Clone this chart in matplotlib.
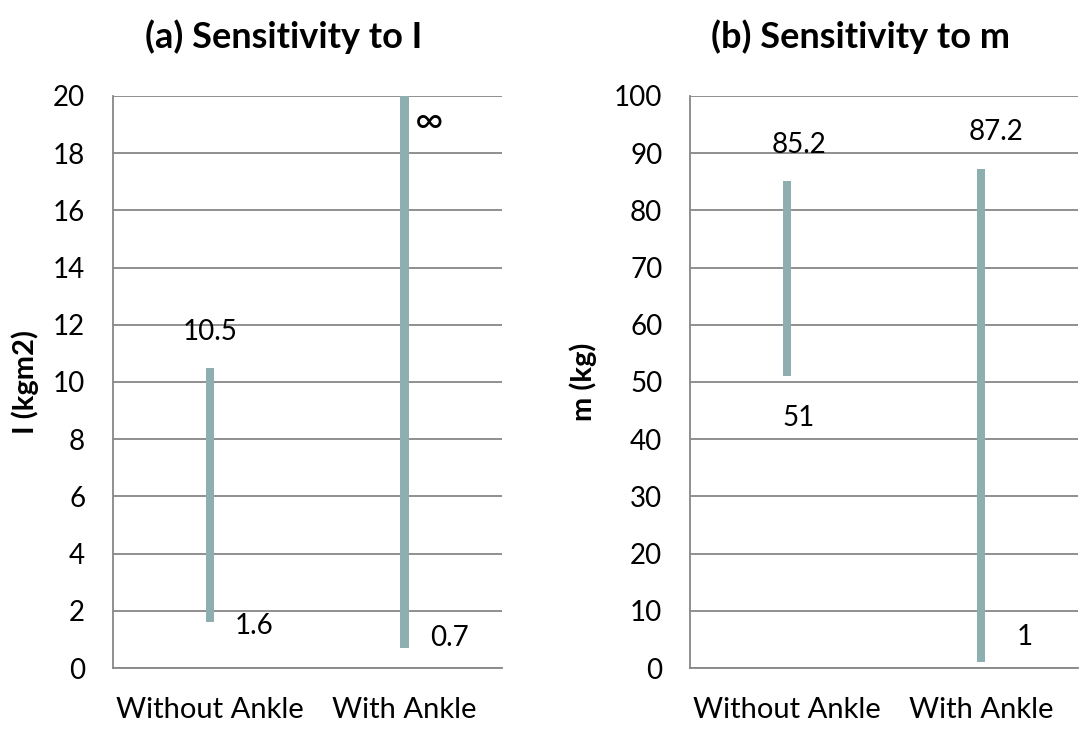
import matplotlib
matplotlib.use('Agg')
import matplotlib.pyplot as plt

plt.rcParams['font.family'] = ['Lato', 'DejaVu Sans']

categories = ['Without Ankle', 'With Ankle']

# (a) sensitivity to I
i_low = [1.6, 0.7]
i_high = [10.5, 20]          # upper bound for "With Ankle" is infinite, clipped at axis top
i_low_labels = ['1.6', '0.7']
i_high_labels = ['10.5', '∞']

# (b) sensitivity to m
m_low = [51, 1]
m_high = [85.2, 87.2]
m_low_labels = ['51', '1']
m_high_labels = ['85.2', '87.2']

bar_color = '#8DAFB0'
grid_color = '#878787'
FS = 20

fig = plt.figure(figsize=(10.86, 7.41), dpi=100)
ax1 = fig.add_axes([0.104, 0.0985, 0.358, 0.772])
ax2 = fig.add_axes([0.6354, 0.0985, 0.3573, 0.772])


def style(ax, ymax, step):
    ax.set_xlim(-0.5, 1.5)
    ax.set_ylim(0, ymax)
    ax.set_yticks(range(0, ymax + 1, step))
    ax.set_xticks(range(len(categories)))
    ax.set_xticklabels(categories)
    ax.tick_params(axis='both', length=0)
    ax.tick_params(axis='y', pad=20, labelsize=FS)
    ax.tick_params(axis='x', pad=21, labelsize=21)
    ax.yaxis.grid(True, color=grid_color, linewidth=1.3)
    ax.set_axisbelow(True)
    for s in ['top', 'right']:
        ax.spines[s].set_visible(False)
    for s in ['left', 'bottom']:
        ax.spines[s].set_color(grid_color)
        ax.spines[s].set_linewidth(1.3)


# left panel
style(ax1, 20, 2)
x = range(len(categories))
ax1.bar(x, [h - l for h, l in zip(i_high, i_low)], bottom=i_low, width=0.042,
        color=bar_color, zorder=3)
fig.text(0.261, 0.951, '(a) Sensitivity to I', fontsize=26, fontweight='bold',
         ha='center', va='center')
ax1.set_ylabel('I (kgm2)', fontsize=21, fontweight='bold')
ax1.yaxis.set_label_coords(-0.19, 0.5)

hi_off = [(0, 36), (25, -26)]
lo_off = [(44, -4), (45, 10)]
hi_size = [FS, 28]   # the infinity sign is drawn larger in the original
for i in x:
    ax1.annotate(i_high_labels[i], (i, i_high[i]), xytext=hi_off[i], textcoords='offset pixels',
                 ha='center', va='center', fontsize=hi_size[i], annotation_clip=False)
    ax1.annotate(i_low_labels[i], (i, i_low[i]), xytext=lo_off[i], textcoords='offset pixels',
                 ha='center', va='center', fontsize=FS, annotation_clip=False)

# right panel
style(ax2, 100, 10)
ax2.bar(x, [h - l for h, l in zip(m_high, m_low)], bottom=m_low, width=0.042,
        color=bar_color, zorder=3)
fig.text(0.792, 0.951, '(b) Sensitivity to m', fontsize=26, fontweight='bold',
         ha='center', va='center')
ax2.set_ylabel('m (kg)', fontsize=21, fontweight='bold')
ax2.yaxis.set_label_coords(-0.24, 0.5)

hi_off = [(12, 36), (15, 37)]
lo_off = [(12, -42), (44, 25)]
for i in x:
    ax2.annotate(m_high_labels[i], (i, m_high[i]), xytext=hi_off[i], textcoords='offset pixels',
                 ha='center', va='center', fontsize=FS, annotation_clip=False)
    ax2.annotate(m_low_labels[i], (i, m_low[i]), xytext=lo_off[i], textcoords='offset pixels',
                 ha='center', va='center', fontsize=FS, annotation_clip=False)

fig.savefig('out.png', dpi=100)
